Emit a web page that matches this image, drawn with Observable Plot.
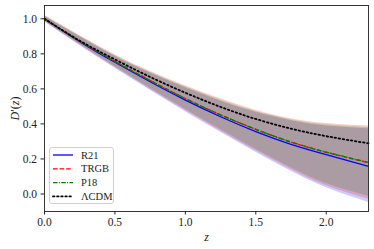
<!DOCTYPE html>
<html>
<head>
<meta charset="utf-8">
<script src="https://cdn.jsdelivr.net/npm/d3@7"></script>
<script src="https://cdn.jsdelivr.net/npm/@observablehq/plot@0.6"></script>
<style>
  html, body { margin: 0; padding: 0; background: #fff; }
  #wrap { position: relative; width: 374px; height: 249px; font-family: "Liberation Serif", serif; }
  #legend { position: absolute; left: 49px; top: 147px; width: 65px; height: 57px;
            background: rgba(255,255,255,0.85); border: 1px solid #d0d0d0; border-radius: 3px; box-sizing: border-box; }
</style>
</head>
<body>
<div id="wrap"></div>
<script>
// ---- data ----
const z      = [0, 0.25, 0.5, 0.75, 1.0, 1.25, 1.5, 1.75, 2.0, 2.3];
const lcdm   = [1.0, 0.875, 0.768, 0.668, 0.578, 0.497, 0.428, 0.373, 0.330, 0.289];
const r21    = [1.0, 0.870, 0.752, 0.641, 0.536, 0.441, 0.356, 0.283, 0.224, 0.158];
const trgb   = [1.0, 0.872, 0.757, 0.648, 0.545, 0.452, 0.369, 0.296, 0.238, 0.178];
const p18    = [1.0, 0.872, 0.756, 0.647, 0.544, 0.451, 0.369, 0.297, 0.239, 0.180];
const r21Hi  = [1.015, 0.898, 0.786, 0.690, 0.606, 0.530, 0.466, 0.418, 0.388, 0.372];
const r21Lo  = [0.983, 0.848, 0.718, 0.592, 0.470, 0.352, 0.238, 0.130, 0.036, -0.048];
const trgbHi = [1.020, 0.905, 0.795, 0.700, 0.618, 0.543, 0.478, 0.430, 0.402, 0.388];
const trgbLo = [0.985, 0.852, 0.723, 0.598, 0.477, 0.360, 0.247, 0.140, 0.047, -0.030];
const p18Hi  = [1.018, 0.902, 0.790, 0.695, 0.612, 0.537, 0.472, 0.424, 0.395, 0.380];
const p18Lo  = [0.987, 0.855, 0.728, 0.604, 0.484, 0.368, 0.256, 0.150, 0.060, -0.014];
const xTicks = [0, 0.5, 1.0, 1.5, 2.0];
const yTicks = [0, 0.2, 0.4, 0.6, 0.8, 1.0];
const seriesNames = ["R21", "TRGB", "P18", "ΛCDM"];
const seriesColors = ["#0000ff", "#ff0000", "#008000", "#000000"];
const seriesDash = ["none", "4.6,2", "4.6,1.3,1,1.3", "1.5,2.6"];
const seriesWidth = [1.3, 1.3, 1.3, 1.8];

// ---- build tables ----
const rows = z.map((v, i) => ({z: v, lcdm: lcdm[i], r21: r21[i], trgb: trgb[i], p18: p18[i],
  r21Hi: r21Hi[i], r21Lo: r21Lo[i], trgbHi: trgbHi[i], trgbLo: trgbLo[i], p18Hi: p18Hi[i], p18Lo: p18Lo[i]}));
const curve = "natural";
const lineKeys = ["r21", "trgb", "p18", "lcdm"];

const fontFam = "Liberation Serif, serif";
const chart = Plot.plot({
  width: 374, height: 249,
  marginLeft: 44, marginRight: 6, marginTop: 5, marginBottom: 38,
  style: {fontFamily: fontFam, fontSize: "11.5px", color: "#222", background: "#fff"},
  x: {domain: [0, 2.3]},
  y: {domain: [-0.1, 1.076]},
  marks: [
    Plot.areaY(rows, {x: "z", y1: "r21Lo", y2: "r21Hi", fill: seriesColors[0], fillOpacity: 0.2, curve}),
    Plot.areaY(rows, {x: "z", y1: "trgbLo", y2: "trgbHi", fill: seriesColors[1], fillOpacity: 0.2, curve}),
    Plot.areaY(rows, {x: "z", y1: "p18Lo", y2: "p18Hi", fill: seriesColors[2], fillOpacity: 0.2, curve}),
    ...lineKeys.map((k, i) => Plot.line(rows, {x: "z", y: k, stroke: seriesColors[i],
      strokeWidth: seriesWidth[i], strokeDasharray: seriesDash[i], curve,
      strokeLinecap: i === 3 ? "round" : "butt"})),
    Plot.frame({stroke: "#222", strokeWidth: 0.9}),
    Plot.axisX({ticks: xTicks, tickFormat: d3.format(".1f"), tickSize: 3.5, tickPadding: 3,
      label: "z", labelAnchor: "center", labelArrow: "none", labelOffset: 29}),
    Plot.axisY({ticks: yTicks, tickFormat: d3.format(".1f"), tickSize: 3.5, tickPadding: 4,
      label: "D′(z)", labelAnchor: "center", labelArrow: "none", labelOffset: 34})
  ]
});
document.getElementById("wrap").appendChild(chart);

// style axis labels italic (math style)
d3.select(chart).selectAll("g[aria-label='x-axis label'] text").style("font-style", "italic").style("font-size", "12px");
d3.select(chart).selectAll("g[aria-label='y-axis label'] text").each(function() {
  const t = d3.select(this);
  t.text(null).style("font-size", "12px");
  t.append("tspan").style("font-style", "italic").text("D");
  t.append("tspan").text("′(");
  t.append("tspan").style("font-style", "italic").text("z");
  t.append("tspan").text(")");
});

// ---- legend ----
const legend = d3.select("#wrap").append("div").attr("id", "legend");
const lsvg = legend.append("svg").attr("width", 63).attr("height", 55).style("display", "block");
seriesNames.forEach((name, i) => {
  const yy = 7 + i * 13.8;
  lsvg.append("line").attr("x1", 3).attr("x2", 23).attr("y1", yy).attr("y2", yy)
    .attr("stroke", seriesColors[i]).attr("stroke-width", seriesWidth[i])
    .attr("stroke-dasharray", seriesDash[i]).attr("stroke-linecap", i === 3 ? "round" : "butt");
  lsvg.append("text").attr("x", 31).attr("y", yy).attr("dy", "0.35em")
    .attr("font-family", fontFam).attr("font-size", 10.5).attr("fill", "#222").text(name);
});
</script>
</body>
</html>
